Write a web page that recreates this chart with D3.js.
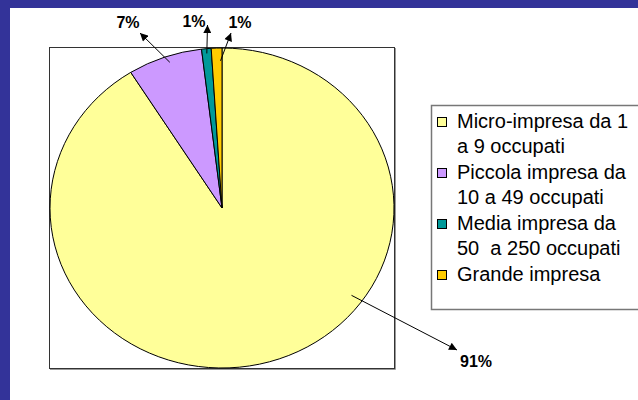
<!DOCTYPE html>
<html><head><meta charset="utf-8">
<script src="https://cdn.jsdelivr.net/npm/d3@7"></script>
<style>html,body{margin:0;padding:0;background:#fff;}svg{display:block;}</style>
</head><body>
<script>
// ---- data ----
const categories = ["Micro-impresa da 1 a 9 occupati", "Piccola impresa da 10 a 49 occupati", "Media impresa da 50  a 250 occupati", "Grande impresa"];
const legendLines = [["Micro-impresa da 1", "a 9 occupati"], ["Piccola impresa da", "10 a 49 occupati"], ["Media impresa da", "50  a 250 occupati"], ["Grande impresa"]];
const values = [91.1, 7.0, 0.9, 1.0];
const labels = ["91%", "7%", "1%", "1%"];
const colors = ["#FFFF99", "#CC99FF", "#009999", "#FFCC00"];

// ---- layout ----
const W = 638, H = 400;
const cx = 222, cy = 208, ry = 160, rx = 172;
const leader = [ // t = position within slice, rf = radius fraction, tip = arrow tip, lab = label anchor
  {t: 0.384, rf: 0.93, tip: [457, 350], lab: [476, 367]},
  {t: 0.54, rf: 0.96, tip: [140, 33], lab: [128, 28]},
  {t: 0.5, rf: 0.97, tip: [207.5, 25], lab: [194, 27]},
  {t: 0.85, rf: 0.92, tip: [231, 33], lab: [240, 28]}
];

const svg = d3.select("body").append("svg").attr("width", W).attr("height", H);
svg.append("rect").attr("width", W).attr("height", H).attr("fill", "#fff");
// blue frame
svg.append("rect").attr("x", 0).attr("y", 0).attr("width", W).attr("height", 8).attr("fill", "#333399");
svg.append("rect").attr("x", 0).attr("y", 0).attr("width", 10).attr("height", H).attr("fill", "#333399");

// plot area box
svg.append("rect").attr("x", 49.5).attr("y", 47.5).attr("width", 345).attr("height", 321)
  .attr("fill", "none").attr("stroke", "#333").attr("stroke-width", 1);
svg.append("path").attr("d", "M50,369.5H395.5V48").attr("fill", "none").attr("stroke", "#999").attr("stroke-width", 1);

const pie = d3.pie().sort(null).value(d => d);
const arcs = pie(values);
const arc = d3.arc().innerRadius(0).outerRadius(ry);

const g = svg.append("g").attr("transform", `translate(${cx},${cy}) scale(${rx/ry},1)`);
g.selectAll("path").data(arcs).join("path")
  .attr("d", arc).attr("fill", (d, i) => colors[i])
  .attr("stroke", "#000").attr("stroke-width", 1).attr("vector-effect", "non-scaling-stroke")
  .attr("stroke-linejoin", "round");

// arrow marker
svg.append("defs").append("marker").attr("id", "ah").attr("viewBox", "0 0 10 10")
  .attr("refX", 10).attr("refY", 5).attr("markerWidth", 9).attr("markerHeight", 8)
  .attr("markerUnits", "userSpaceOnUse").attr("orient", "auto")
  .append("path").attr("d", "M0,0L10,5L0,10Z").attr("fill", "#000");

arcs.forEach((d, i) => {
  const L = leader[i];
  const a = d.startAngle + (d.endAngle - d.startAngle) * L.t;
  const x0 = cx + Math.sin(a) * ry * L.rf * (rx / ry);
  const y0 = cy - Math.cos(a) * ry * L.rf;
  svg.append("line").attr("x1", x0).attr("y1", y0).attr("x2", L.tip[0]).attr("y2", L.tip[1])
    .attr("stroke", "#000").attr("stroke-width", 1).attr("marker-end", "url(#ah)");
  svg.append("text").attr("x", L.lab[0]).attr("y", L.lab[1]).attr("text-anchor", "middle")
    .attr("font-family", "Liberation Sans, Arial, sans-serif").attr("font-weight", "bold")
    .attr("font-size", 16).attr("fill", "#000").text(labels[i]);
});

// legend
const lg = svg.append("g");
lg.append("rect").attr("x", 431.5).attr("y", 105.5).attr("width", 240).attr("height", 204)
  .attr("fill", "#fff").attr("stroke", "#777").attr("stroke-width", 1.5);
const itemY = [128, 179, 230, 281];
legendLines.forEach((lines, i) => {
  lg.append("rect").attr("x", 437.5).attr("y", itemY[i] - 10.5).attr("width", 9).attr("height", 9)
    .attr("fill", colors[i]).attr("stroke", "#000").attr("stroke-width", 1);
  lines.forEach((t, j) => {
    lg.append("text").attr("x", 457).attr("y", itemY[i] + j * 25)
      .attr("font-family", "Liberation Sans, Arial, sans-serif").attr("font-size", 20)
      .attr("fill", "#000").attr("xml:space", "preserve").style("white-space", "pre").text(t);
  });
});
</script>
</body></html>
